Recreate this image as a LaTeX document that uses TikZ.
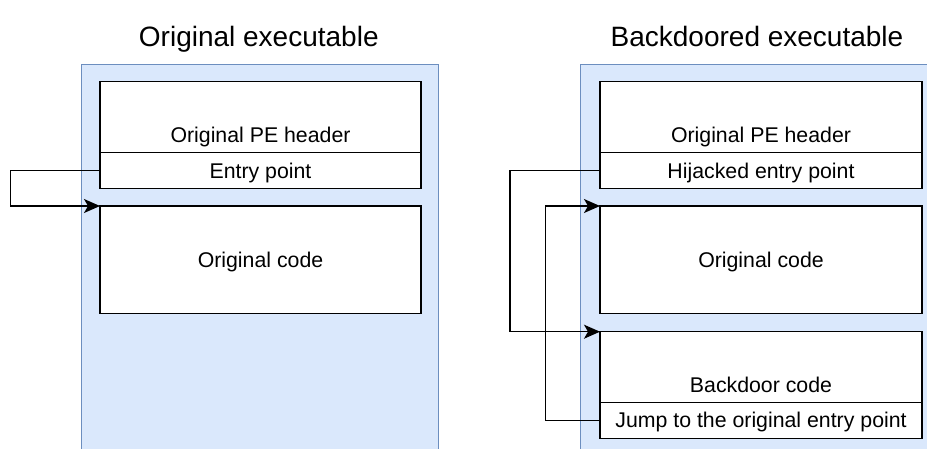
\documentclass[tikz,border=0pt]{standalone}
\usepackage{fontspec}
\setmainfont{Liberation Sans}
\usetikzlibrary{arrows.meta}
\definecolor{panelfill}{HTML}{DAE8FC}
\definecolor{paneldraw}{HTML}{6C8EBF}
\begin{document}
\begin{tikzpicture}[x=1pt,y=-1pt,
  panel/.style={draw=paneldraw,fill=panelfill,line width=1pt,inner sep=0pt,outer sep=0pt,anchor=north west},
  box/.style={draw=black,fill=white,line width=1.4pt,inner sep=0pt,outer sep=0pt,anchor=north west},
  txt/.style={font=\fontsize{21.3}{25}\selectfont,inner sep=0pt,anchor=base},
  ttl/.style={font=\fontsize{28}{32}\selectfont,inner sep=0pt,anchor=base},
  conn/.style={draw=black,line width=1.3pt,-{Stealth[length=16pt,width=14pt,inset=4pt]}}]
\useasboundingbox (0,0) rectangle (927,448);
% panels
\node[panel,minimum width=357pt,minimum height=400pt] (lp) at (81.7,64) {};
\node[panel,minimum width=357pt,minimum height=400pt] (rp) at (580.7,64) {};
% titles
\node[ttl] (lt) at (258.8,46.5) {Original executable};
\node[ttl] (rt) at (757,46.5) {Backdoored executable};
% left boxes
\node[box,minimum width=321pt,minimum height=71pt] (lh) at (100,81.7) {};
\node[box,minimum width=321pt,minimum height=35.6pt] (le) at (100,152.7) {};
\node[box,minimum width=321pt,minimum height=107.3pt] (lc) at (100,206) {};
\node[txt] (lht) at (260.5,142.7) {Original PE header};
\node[txt] (let) at (260.5,178.3) {Entry point};
\node[txt] (lct) at (260.5,267.3) {Original code};
% right boxes
\node[box,minimum width=322pt,minimum height=71pt] (rh) at (600,81.7) {};
\node[box,minimum width=322pt,minimum height=35.6pt] (re) at (600,152.7) {};
\node[box,minimum width=322pt,minimum height=107.3pt] (rc) at (600,206) {};
\node[box,minimum width=322pt,minimum height=70.6pt] (rb) at (600,331.7) {};
\node[box,minimum width=322pt,minimum height=36pt] (rj) at (600,402.3) {};
\node[txt] (rht) at (761,142.7) {Original PE header};
\node[txt] (ret) at (761,178.3) {Hijacked entry point};
\node[txt] (rct) at (761,267.3) {Original code};
\node[txt] (rbt) at (761,392.7) {Backdoor code};
\node[txt] (rjt) at (761,427.7) {Jump to the original entry point};
% connectors
\draw[conn] (le.west) -- ++(-89.7,0) |- (lc.north west);
\draw[conn] (re.west) -- ++(-90,0) |- (rb.north west);
\draw[conn] (rj.west) -- ++(-54.3,0) |- (rc.north west);
\end{tikzpicture}
\end{document}
